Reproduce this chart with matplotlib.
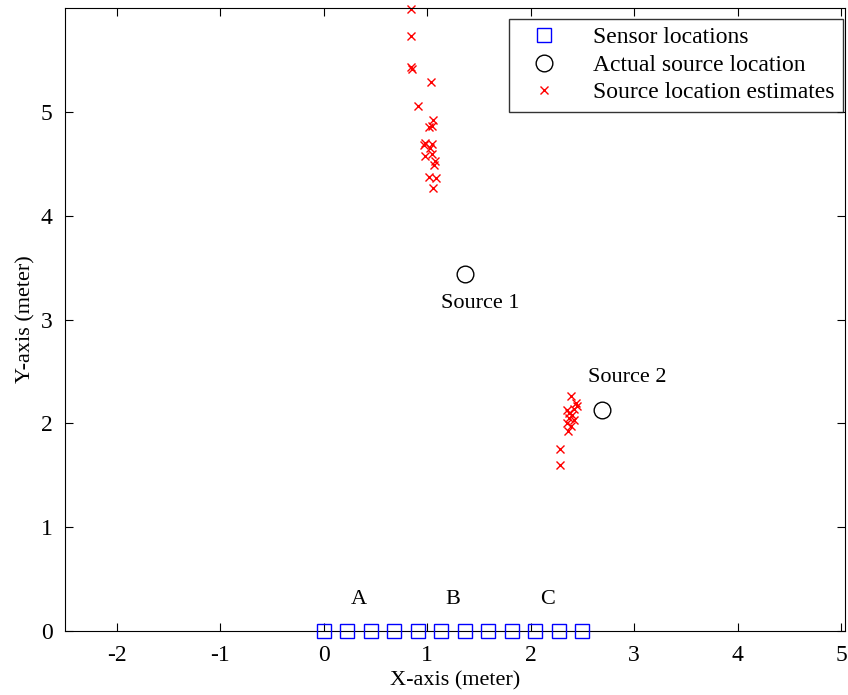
import numpy as np
import matplotlib
matplotlib.use("Agg")
import matplotlib.pyplot as plt

plt.rcParams['font.family'] = ['Liberation Serif', 'DejaVu Serif']
plt.rcParams['axes.unicode_minus'] = False

# sensor array: 12 sensors evenly spread over 0..2.5 m
sensor_x = np.linspace(0, 2.5, 12)
sensor_y = np.zeros(12)

# actual source locations
source_x = [1.365, 2.69]
source_y = [3.44, 2.13]

# estimates around source 1
est1_x = [0.846, 0.843, 0.856, 0.846, 1.036, 0.91, 1.055, 1.016, 1.048, 0.98,
          0.968, 1.03, 1.048, 0.98, 1.048, 1.077, 1.064, 1.016, 1.087, 1.055]
est1_y = [5.99, 5.73, 5.41, 5.43, 5.29, 5.06, 4.92, 4.85, 4.86, 4.70,
          4.68, 4.65, 4.69, 4.57, 4.59, 4.53, 4.49, 4.37, 4.36, 4.27]

# estimates around source 2
est2_x = [2.394, 2.442, 2.452, 2.423, 2.356, 2.375, 2.404, 2.375, 2.423, 2.356,
          2.394, 2.365, 2.279, 2.279]
est2_y = [2.26, 2.20, 2.17, 2.14, 2.125, 2.10, 2.08, 2.05, 2.03, 2.00,
          1.97, 1.93, 1.75, 1.60]

fig = plt.figure(figsize=(8.48, 6.95), dpi=100)
ax = fig.add_axes([0.0767, 0.092, 0.92, 0.8965])

ax.plot(sensor_x, sensor_y, 's', color='blue', mfc='none', ms=9.5, mew=1,
        label='Sensor locations', clip_on=False, zorder=3)
ax.plot(source_x, source_y, 'o', color='black', mfc='none', ms=12, mew=1,
        label='Actual source location')
ax.plot(est1_x + est2_x, est1_y + est2_y, 'x', color='red', ms=6, mew=1,
        label='Source location estimates', clip_on=False)

ax.text(1.51, 3.15, 'Source 1', fontsize=16, ha='center', va='center')
ax.text(2.93, 2.44, 'Source 2', fontsize=16, ha='center', va='center')
for lab, xx in zip(['A', 'B', 'C'], [0.34, 1.25, 2.16]):
    ax.text(xx, 0.3, lab, fontsize=16, ha='center', va='center')

ax.set_xlim(-2.5, 5.04)
ax.set_ylim(0, 6)
ax.set_xticks(range(-2, 6))
ax.set_yticks(range(0, 6))
ax.tick_params(direction='in', top=True, right=True, labelsize=17, length=6)
ax.tick_params(axis='x', pad=10)
ax.tick_params(axis='y', pad=9)
ax.set_xlabel('X-axis (meter)', fontsize=16, labelpad=4)
ax.set_ylabel('Y-axis (meter)', fontsize=16, labelpad=4)

leg = ax.legend(loc='upper right', bbox_to_anchor=(0.997, 0.983),
                borderaxespad=0, fontsize=17, frameon=True, fancybox=False,
                edgecolor='black', handletextpad=1.0,
                labelspacing=0.25, borderpad=0.35, handlelength=2.2)
leg.get_frame().set_linewidth(1)

fig.savefig('out.png', dpi=100)
